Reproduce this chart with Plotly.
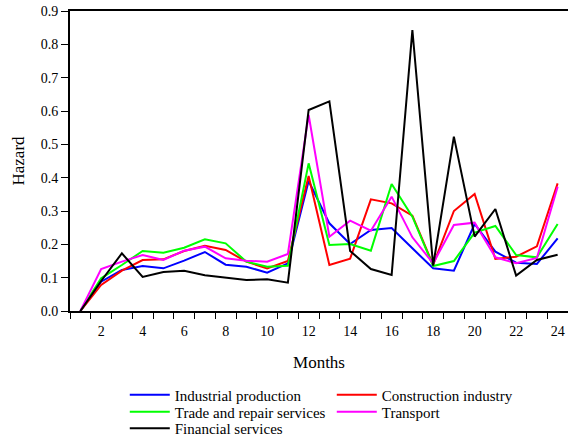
import plotly.graph_objects as go

months = list(range(1, 25))

industrial = [0.0, 0.088, 0.123, 0.135, 0.128, 0.151, 0.177, 0.139, 0.133, 0.115, 0.143, 0.39,
              0.263, 0.201, 0.243, 0.249, 0.188, 0.128, 0.121, 0.261, 0.178, 0.145, 0.141, 0.218]
construction = [0.0, 0.078, 0.121, 0.153, 0.155, 0.180, 0.196, 0.183, 0.148, 0.128, 0.150, 0.405,
                0.138, 0.157, 0.335, 0.323, 0.286, 0.138, 0.300, 0.351, 0.156, 0.163, 0.194, 0.383]
trade = [0.0, 0.098, 0.138, 0.180, 0.175, 0.190, 0.215, 0.203, 0.148, 0.133, 0.136, 0.443,
         0.198, 0.201, 0.181, 0.381, 0.283, 0.135, 0.150, 0.235, 0.255, 0.168, 0.161, 0.261]
transport = [0.0, 0.126, 0.148, 0.168, 0.153, 0.181, 0.193, 0.158, 0.151, 0.148, 0.171, 0.588,
             0.223, 0.271, 0.241, 0.343, 0.221, 0.143, 0.258, 0.265, 0.161, 0.143, 0.159, 0.373]
financial = [0.0, 0.090, 0.173, 0.102, 0.117, 0.121, 0.107, 0.099, 0.093, 0.095, 0.085, 0.603,
             0.629, 0.180, 0.126, 0.108, 0.843, 0.136, 0.523, 0.223, 0.306, 0.106, 0.153, 0.169]

# (name, values, colour, legend row)
series = [
    ("Industrial production", industrial, "#0000ff", "legend"),
    ("Construction industry", construction, "#ff0000", "legend"),
    ("Trade and repair services", trade, "#00ff00", "legend2"),
    ("Transport", transport, "#ff00ff", "legend2"),
    ("Financial services", financial, "#000000", "legend3"),
]

x_labels = list(range(2, 25, 2))
y_ticks = [round(0.1 * i, 1) for i in range(10)]

fig = go.Figure()
for name, vals, color, leg in series:
    fig.add_trace(go.Scatter(x=months, y=vals, mode="lines", name=name, legend=leg,
                             line=dict(color=color, width=2)))

font = dict(family="Liberation Serif", size=14, color="black")
legend_font = dict(family="Liberation Serif", size=15, color="black")


def legend_row(y):
    return dict(orientation="h", x=0.11, xanchor="left", y=y, yanchor="top",
                entrywidth=152, entrywidthmode="pixels", itemwidth=40,
                traceorder="normal", font=legend_font, bgcolor="rgba(0,0,0,0)")


fig.update_layout(
    width=568, height=437,
    margin=dict(l=70, r=0, t=11, b=126, autoexpand=False),
    paper_bgcolor="white", plot_bgcolor="white",
    font=font,
    showlegend=True,
    legend=legend_row(-0.225),
    legend2=legend_row(-0.282),
    legend3=legend_row(-0.337),
    xaxis=dict(range=[0.5, 24.5], tickvals=x_labels, ticktext=[str(v) for v in x_labels],
               ticks="outside", ticklen=6, tickcolor="rgba(0,0,0,0)",
               showgrid=False, zeroline=False,
               showline=True, linecolor="black", linewidth=2, mirror=True,
               minor=dict(ticks="outside", tick0=0.5, dtick=1, ticklen=6,
                          tickcolor="black", tickwidth=1, showgrid=False),
               title=dict(text="Months", standoff=18), tickfont=font),
    yaxis=dict(range=[0, 0.9], tickvals=y_ticks, ticktext=[f"{v:.1f}" for v in y_ticks],
               ticks="outside", ticklen=7, tickcolor="black", tickwidth=1,
               showgrid=False, zeroline=False,
               showline=True, linecolor="black", linewidth=2, mirror=True,
               title=dict(text="Hazard", standoff=12), tickfont=font),
)

fig.write_html("out.html")
